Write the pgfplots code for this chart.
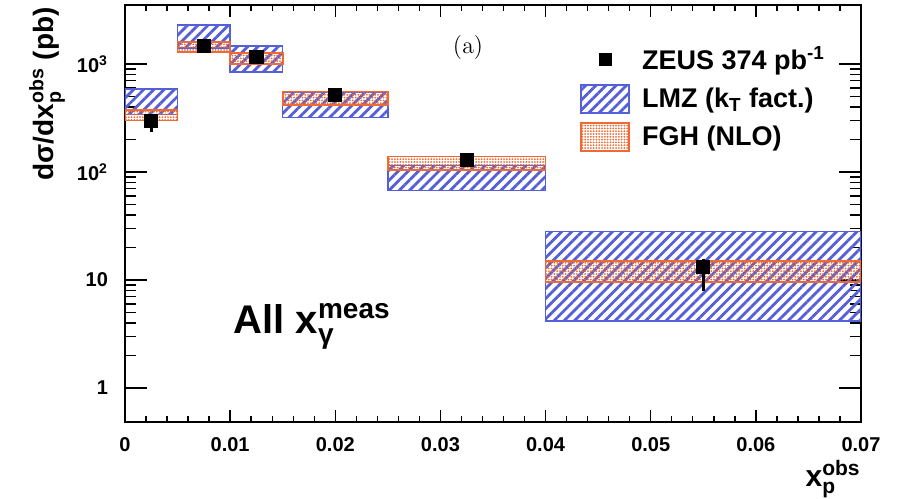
\documentclass[border=0pt]{standalone}
\usepackage[no-math]{fontspec}
\setmainfont{Liberation Sans}
\usepackage{amsmath}
\usepackage{pgfplots}
\pgfplotsset{compat=1.18}
\usetikzlibrary{patterns.meta}
\definecolor{lmzblue}{RGB}{85,95,215}
\definecolor{fghorange}{RGB}{240,105,50}
\pgfplotsset{
  lmz/.style={draw=lmzblue, line width=0.75pt, pattern={Lines[angle=45,distance=3.6pt,line width=1.4pt]}, pattern color=lmzblue},
  fgh/.style={draw=fghorange, line width=0.9pt, pattern={Dots[distance=1.4pt,radius=0.5pt]}, pattern color=fghorange},
  boxlegend/.style={legend image code/.code={\draw[##1] (0pt,-7pt) rectangle (24pt,7pt);}},
  marklegend/.style={legend image code/.code={\draw[##1] plot coordinates {(12pt,0pt)};}},
}
\begin{document}
\begin{tikzpicture}
\begin{axis}[
  at={(0,0)}, anchor=south west,
  scale only axis, width=368pt, height=208.5pt,
  xmin=0, xmax=0.07, ymode=log, ymin=0.484, ymax=3515,
  xtick={0,0.01,0.02,0.03,0.04,0.05,0.06,0.07},
  xticklabels={0,0.01,0.02,0.03,0.04,0.05,0.06,0.07},
  scaled x ticks=false,
  minor x tick num=4,
  ytick={1,10,100,1000},
  yticklabels={1,10,10\textsuperscript{2},10\textsuperscript{3}},
  tick align=inside, tick pos=both,
  major tick length=11pt, minor tick length=5.5pt,
  xtick style={/pgfplots/major tick length=6pt,/pgfplots/minor tick length=3pt},
  axis line style={line width=0.8pt},
  every tick/.style={line width=0.7pt, black},
  x tick label style={font=\fontsize{10}{12}\selectfont\bfseries, yshift=-4pt},
  y tick label style={font=\fontsize{10}{12}\selectfont\bfseries, xshift=-5pt},
  xlabel={x$_{\text{p}}^{\text{obs}}$},
  xlabel style={font=\fontsize{15}{17}\selectfont\bfseries, at={(rel axis cs:1,0)}, anchor=north east, yshift=-19pt, inner sep=0pt},
  ylabel={dσ/dx$_{\text{p}}^{\text{obs}}$ (pb)},
  ylabel style={font=\fontsize{14}{16}\selectfont\bfseries, at={(rel axis cs:0,1)}, anchor=east, yshift=39pt, xshift=-1pt, inner sep=0pt},
  legend style={draw=none, fill=none, at={(rel axis cs:0.618,0.911)}, anchor=north west,
    font=\fontsize{13.5}{15}\selectfont\bfseries, row sep=3.5pt, column sep=4pt, inner sep=0pt},
  legend cell align=left,
]
% LMZ boxes
\addplot[lmz, forget plot] coordinates {(0,340) (0.005,340) (0.005,587) (0,587)} -- cycle;
\addplot[lmz, forget plot] coordinates {(0.005,1400) (0.01,1400) (0.01,2296) (0.005,2296)} -- cycle;
\addplot[lmz, forget plot] coordinates {(0.01,838) (0.015,838) (0.015,1468) (0.01,1468)} -- cycle;
\addplot[lmz, forget plot] coordinates {(0.015,318) (0.025,318) (0.025,545) (0.015,545)} -- cycle;
\addplot[lmz, forget plot] coordinates {(0.025,67) (0.04,67) (0.04,115) (0.025,115)} -- cycle;
\addplot[lmz, forget plot] coordinates {(0.04,4.17) (0.07,4.17) (0.07,28) (0.04,28)} -- cycle;
% FGH boxes
\addplot[fgh, forget plot] coordinates {(0,299) (0.005,299) (0.005,375) (0,375)} -- cycle;
\addplot[fgh, forget plot] coordinates {(0.005,1283) (0.01,1283) (0.01,1609) (0.005,1609)} -- cycle;
\addplot[fgh, forget plot] coordinates {(0.01,1000) (0.015,1000) (0.015,1256) (0.01,1256)} -- cycle;
\addplot[fgh, forget plot] coordinates {(0.015,417) (0.025,417) (0.025,555) (0.015,555)} -- cycle;
\addplot[fgh, forget plot] coordinates {(0.025,104) (0.04,104) (0.04,139) (0.025,139)} -- cycle;
\addplot[fgh, forget plot] coordinates {(0.04,9.58) (0.07,9.58) (0.07,15.1) (0.04,15.1)} -- cycle;
% ZEUS data
\addplot[only marks, mark=square*, mark size=3.3pt, black, forget plot,
  error bars/.cd, y dir=both, y explicit, error mark=none,
  error bar style={line width=1.5pt, black}]
  table[x=x, y=y, y error plus=ep, y error minus=em] {
x       y     ep    em
0.0025  297   20    63
0.0075  1478  40    40
0.0125  1170  40    40
0.02    517   15    15
0.0325  129   8     8
0.055   13.3  2.2   5.4
};
\addlegendimage{only marks, mark=square*, mark size=3pt, black, marklegend}
\addlegendimage{lmz, boxlegend}
\addlegendimage{fgh, boxlegend}
\legend{ZEUS 374 pb\textsuperscript{-1}, LMZ (k$_{\text{T}}$ fact.), FGH (NLO)}
\node[anchor=base west, font=\fontsize{20}{24}\selectfont\bfseries, inner sep=0pt] at (rel axis cs:0.147,0.213) {All x$_{\text{γ}}^{\text{meas}}$};
\node[font=\fontsize{13}{15}\selectfont] at (rel axis cs:0.466,0.899) {$(\mathrm{a})$};
\end{axis}
\pgfresetboundingbox
\path[use as bounding box] (-62.5pt,-38pt) rectangle (386pt,211pt);
\end{tikzpicture}
\end{document}
